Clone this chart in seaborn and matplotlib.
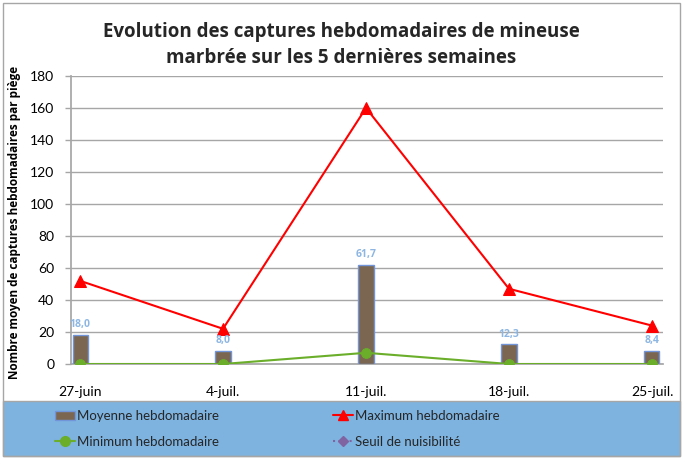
import matplotlib
matplotlib.use("Agg")
import matplotlib.pyplot as plt
import seaborn as sns
import numpy as np
import pandas as pd
from matplotlib.patches import Patch, Rectangle
from matplotlib.lines import Line2D

dates = ["27-juin", "4-juil.", "11-juil.", "18-juil.", "25-juil."]
moyenne = [18.0, 8.0, 61.7, 12.3, 8.4]
maximum = [52, 22, 160, 47, 24]
minimum = [0, 0, 7, 0, 0]
seuil = [np.nan, np.nan, np.nan, np.nan, np.nan]
labels_moy = ["18,0", "8,0", "61,7", "12,3", "8,4"]

sns.set_theme(style="white")
plt.rcParams["font.family"] = ["Lato", "DejaVu Sans"]
BOLD = ["Open Sans", "DejaVu Sans"]

fig = plt.figure(figsize=(6.83, 4.62), dpi=100)
ax = fig.add_axes([71/683, 1-364/462, (663-71)/683, (364-76)/462])

df = pd.DataFrame({"date": dates, "moy": moyenne, "max": maximum, "min": minimum, "seuil": seuil})

sns.barplot(data=df, x="date", y="moy", ax=ax, color="#7B6651", width=0.105,
            saturation=1, edgecolor="#7295DA", linewidth=1.0, zorder=3)
for p, lab in zip(ax.patches, labels_moy):
    ax.text(p.get_x() + p.get_width()/2, p.get_height() + 3, lab, ha="center", va="bottom",
            color="#8DB6E3", fontsize=7.5, fontweight="bold", family=BOLD, zorder=5)

xs = np.arange(len(dates))
sns.lineplot(x=xs, y=df["max"], ax=ax, color="#FF0000", linewidth=1.5, marker="^",
             markersize=8, markeredgecolor="#FF0000", zorder=4)
sns.lineplot(x=xs, y=df["min"], ax=ax, color="#6AAE2A", linewidth=1.5, marker="o",
             markersize=7, markeredgecolor="#6AAE2A", zorder=4)
sns.lineplot(x=xs, y=df["seuil"], ax=ax, color="#8064A2", linewidth=1.5, linestyle=":",
             marker="D", zorder=4)

ax.set_xlim(-0.063, 4.077)
ax.set_ylim(0, 180)
ax.set_yticks(range(0, 181, 20))
ax.set_xticks(xs)
ax.set_xticklabels(dates)
ax.yaxis.grid(True, color="#A6A6A6", linewidth=1.0, zorder=0)
ax.xaxis.grid(False)
ax.set_axisbelow(True)
for s in ["top", "right"]:
    ax.spines[s].set_visible(False)
ax.spines["left"].set_color("#A6A6A6")
ax.spines["bottom"].set_color("#A6A6A6")
ax.tick_params(axis="y", which="major", left=True, length=4, width=1, color="#A6A6A6",
               labelsize=10, pad=8, labelcolor="black")
ax.tick_params(axis="x", bottom=False, labelsize=10, pad=10, labelcolor="black")
ax.set_xlabel("")
ax.set_ylabel("Nombre moyen de captures hebdomadaires par piège", fontsize=8.5,
              fontweight="bold", family=BOLD, color="black")
ax.yaxis.set_label_coords(-(71-21)/592, (364-222)/288)

fig.text(0.5, 1-32/462, "Evolution des captures hebdomadaires de mineuse", ha="center",
         va="center", fontsize=13.5, fontweight="bold", family=BOLD)
fig.text(0.5, 1-58/462, "marbrée sur les 5 dernières semaines", ha="center",
         va="center", fontsize=13.5, fontweight="bold", family=BOLD)

# outer border
fig.patches.append(Rectangle((3/683, 1-456/462), 677/683, 453/462, transform=fig.transFigure,
                             fill=False, edgecolor="#A6A6A6", linewidth=1))
# legend box
fig.patches.append(Rectangle((3/683, 1-456/462), 677/683, 55/462, transform=fig.transFigure,
                             facecolor="#7EB3E0", edgecolor="#A6A6A6", linewidth=1, zorder=0))

handles = [
    Patch(facecolor="#7B6651", edgecolor="#7295DA", label="Moyenne hebdomadaire"),
    Line2D([], [], color="#6AAE2A", marker="o", markersize=7, linewidth=1.5, label="Minimum hebdomadaire"),
    Line2D([], [], color="#FF0000", marker="^", markersize=7, linewidth=1.5, label="Maximum hebdomadaire"),
    Line2D([], [], color="#8064A2", marker="D", markersize=5, linestyle=":", linewidth=1.5, label="Seuil de nuisibilité"),
]
fig.legend(handles=handles, ncol=2, loc="center left", bbox_to_anchor=(55/683, 1-429/462),
           frameon=False, fontsize=9.5, handlelength=1.5, handletextpad=0.2,
           columnspacing=8.6, borderpad=0, borderaxespad=0, labelspacing=1.05)

fig.savefig("out.png", dpi=100)
